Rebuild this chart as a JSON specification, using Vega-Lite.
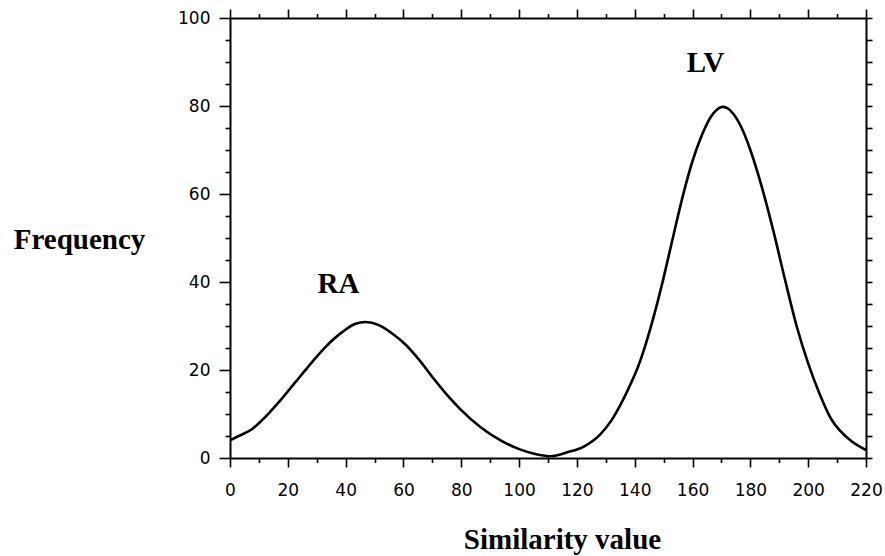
{
  "$schema": "https://vega.github.io/schema/vega-lite/v6.json",
  "autosize": "none",
  "width": 636,
  "height": 440,
  "padding": {"left": 230, "top": 18, "right": 19, "bottom": 98},
  "background": "white",
  "config": {
    "view": {"stroke": null},
    "axis": {
      "domainColor": "black", "domainWidth": 2, "tickColor": "black", "tickWidth": 1.6,
      "labelColor": "black", "labelFont": "DejaVu Sans", "labelFontSize": 17,
      "labelOverlap": false, "labelBound": false, "labelFlush": false, "grid": false,
      "titleColor": "black", "titleFont": "Liberation Serif", "titleFontSize": 29, "titleFontWeight": "bold"
    }
  },
  "datasets": {
    "curve": [
      {"x": 0, "y": 4.0}, {"x": 3, "y": 5.0}, {"x": 7.7, "y": 6.6}, {"x": 11.1, "y": 8.6},
      {"x": 16.9, "y": 12.7}, {"x": 22.7, "y": 17.3}, {"x": 28.4, "y": 21.8}, {"x": 33, "y": 25.2},
      {"x": 38.8, "y": 28.6}, {"x": 43.4, "y": 30.5}, {"x": 46.9, "y": 30.9}, {"x": 51.5, "y": 30.2},
      {"x": 56.1, "y": 28.3}, {"x": 60.7, "y": 25.8}, {"x": 65.3, "y": 22.4}, {"x": 70, "y": 18.4},
      {"x": 75, "y": 14.4}, {"x": 79.8, "y": 11.0}, {"x": 86.7, "y": 7.0}, {"x": 93.6, "y": 4.0},
      {"x": 100.5, "y": 1.9}, {"x": 106.3, "y": 0.8}, {"x": 110.9, "y": 0.4}, {"x": 116.7, "y": 1.3},
      {"x": 122.4, "y": 2.6}, {"x": 128, "y": 5.3}, {"x": 132, "y": 8.6}, {"x": 135, "y": 12.0},
      {"x": 138, "y": 16.0}, {"x": 141, "y": 20.5}, {"x": 144, "y": 26.3}, {"x": 147, "y": 33.2},
      {"x": 150, "y": 41.0}, {"x": 153, "y": 49.5}, {"x": 157, "y": 60.5}, {"x": 160, "y": 67.5},
      {"x": 163, "y": 73.0}, {"x": 166.3, "y": 77.5}, {"x": 168.5, "y": 79.2}, {"x": 170.3, "y": 79.8},
      {"x": 172, "y": 79.5}, {"x": 174, "y": 78.3}, {"x": 177, "y": 75.0}, {"x": 180, "y": 70.0},
      {"x": 184, "y": 61.5}, {"x": 188, "y": 51.5}, {"x": 192, "y": 40.5}, {"x": 196, "y": 30.0},
      {"x": 200, "y": 21.5}, {"x": 204, "y": 14.5}, {"x": 208, "y": 8.8}, {"x": 211, "y": 6.2},
      {"x": 215, "y": 3.8}, {"x": 220, "y": 1.8}
    ],
    "labels": [
      {"x": 37.5, "y": 37.5, "t": "RA"},
      {"x": 164.5, "y": 87.7, "t": "LV"}
    ]
  },
  "layer": [
    {
      "data": {"name": "curve"},
      "mark": {"type": "line", "color": "black", "strokeWidth": 2.6, "interpolate": "monotone", "clip": true},
      "encoding": {
        "x": {
          "field": "x", "type": "quantitative",
          "scale": {"domain": [0, 220], "nice": false, "zero": false},
          "axis": {
            "orient": "bottom", "title": "Similarity value",
            "values": [0,10,20,30,40,50,60,70,80,90,100,110,120,130,140,150,160,170,180,190,200,210,220],
            "labelExpr": "datum.value % 20 === 0 ? datum.label : ''",
            "tickSize": {"condition": {"test": "datum.value % 20 === 0", "value": 9}, "value": 4.5},
            "labelPadding": 15,
            "titleX": 332, "titleY": 90, "titleAlign": "center", "titleBaseline": "alphabetic"
          }
        },
        "y": {
          "field": "y", "type": "quantitative",
          "scale": {"domain": [0, 100], "nice": false, "zero": false},
          "axis": {
            "orient": "left", "title": "Frequency",
            "values": [0,5,10,15,20,25,30,35,40,45,50,55,60,65,70,75,80,85,90,95,100],
            "labelExpr": "datum.value % 20 === 0 ? datum.label : ''",
            "tickSize": {"condition": {"test": "datum.value % 20 === 0", "value": 11}, "value": 5},
            "labelPadding": 9,
            "titleAngle": 0, "titleX": -151, "titleY": 230, "titleAlign": "center", "titleBaseline": "alphabetic"
          }
        }
      }
    },
    {
      "data": {"name": "labels"},
      "mark": {"type": "text", "font": "Liberation Serif", "fontSize": 29, "fontWeight": "bold", "color": "black", "align": "center", "baseline": "alphabetic"},
      "encoding": {
        "x": {
          "field": "x", "type": "quantitative",
          "axis": {
            "orient": "top", "title": null, "labels": false,
            "values": [0,10,20,30,40,50,60,70,80,90,100,110,120,130,140,150,160,170,180,190,200,210,220],
            "tickSize": {"condition": {"test": "datum.value % 20 === 0", "value": 9}, "value": 4.5}
          }
        },
        "y": {
          "field": "y", "type": "quantitative",
          "axis": {
            "orient": "right", "title": null, "labels": false,
            "values": [0,5,10,15,20,25,30,35,40,45,50,55,60,65,70,75,80,85,90,95,100],
            "tickSize": 6
          }
        },
        "text": {"field": "t"}
      }
    }
  ],
  "resolve": {"axis": {"x": "independent", "y": "independent"}}
}
